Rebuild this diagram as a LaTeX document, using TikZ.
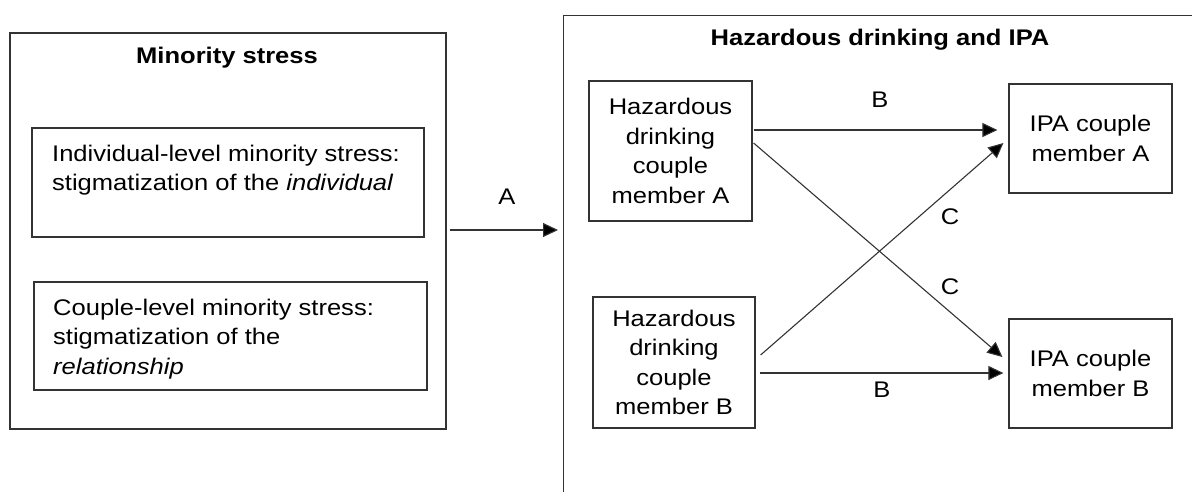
\documentclass[tikz,border=0pt]{standalone}
\usepackage{fontspec}
\setmainfont{Liberation Sans}[FakeStretch=1.13]
\usetikzlibrary{arrows.meta}
\begin{document}
\begin{tikzpicture}[x=1pt,y=-1pt,
  txt/.style={font=\fontsize{22.6}{29.5}\selectfont,inner sep=0pt},
  frame/.style={draw=black!80,line width=1.2pt,inner sep=0pt},
  cbox/.style={frame,txt,align=center,minimum width=163pt},
  lbl/.style={txt,anchor=center},
  arr/.style={draw=black!80,line width=1.1pt,-{Triangle[length=15pt,width=14pt,fill=black]}}
]
\clip (0,0) rectangle (1192,491);
\fill[white] (0,0) rectangle (1192,491);

% left block
\node[frame,minimum width=436pt,minimum height=396pt] (ms) at (228,231) {};
\node[txt,font=\bfseries\fontsize{22.6}{29.5}\selectfont] (mst) at (227,58) {Minority stress};
\node[frame,minimum width=392pt,minimum height=109pt] (ib1) at (228,182.5) {};
\node[txt,align=left,anchor=north west] (ib1t) at (52,144.5)
  {Individual-level minority stress:\\stigmatization of the \textit{individual}};
\node[frame,minimum width=393pt,minimum height=108pt] (ib2) at (230.5,336) {};
\node[txt,align=left,anchor=north west] (ib2t) at (53,298.5)
  {Couple-level minority stress:\\stigmatization of the\\\textit{relationship}};

% right block
\node[frame,minimum width=660pt,minimum height=520pt,anchor=north west] (hd) at (563,15) {};
\node[txt,font=\bfseries\fontsize{22.6}{29.5}\selectfont] (hdt) at (880,40) {Hazardous drinking and IPA};

\node[cbox,minimum height=140pt] (hda) at (670.5,151) {Hazardous\\drinking\\couple\\member A};
\node[cbox,minimum height=131pt,minimum width=162pt] (hdb) at (674,362.5) {Hazardous\\drinking\\couple\\member B};
\node[cbox,minimum height=109pt] (ipaa) at (1090.5,138.5) {IPA couple\\member A};
\node[cbox,minimum height=109pt] (ipab) at (1090.5,373.5) {IPA couple\\member B};

% connectors
\draw[arr] ([xshift=3pt]ms.east |- 0,230) -- ([xshift=-5pt]hd.west |- 0,230);
\draw[arr] ([xshift=1pt,yshift=21pt]hda.east) -- ([xshift=-11pt,yshift=8.5pt]ipaa.west);
\draw[arr] ([xshift=1pt,yshift=8pt]hda.east) -- ([xshift=-6pt,yshift=16.5pt]ipab.west);
\draw[arr] ([xshift=5pt,yshift=7.5pt]hdb.east) -- ([xshift=-5pt,yshift=-4.5pt]ipaa.west);
\draw[arr] ([xshift=4pt,yshift=-10.5pt]hdb.east) -- ([xshift=-5pt,yshift=0.5pt]ipab.west);

% labels
\node[lbl] (la) at (507,197) {A};
\node[lbl] (lb1) at (880,100) {B};
\node[lbl] (lc1) at (950,217) {C};
\node[lbl] (lc2) at (950,287) {C};
\node[lbl] (lb2) at (882,390) {B};
\end{tikzpicture}
\end{document}
